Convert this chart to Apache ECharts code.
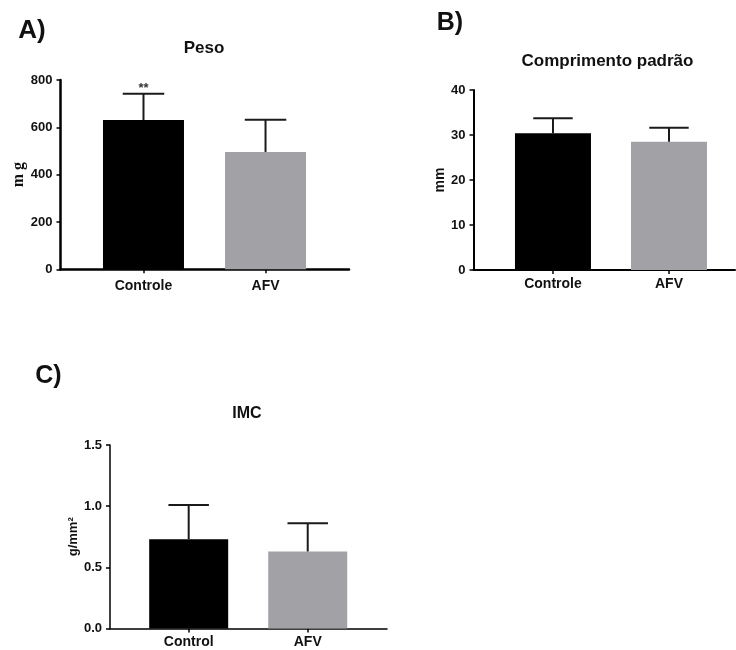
<!DOCTYPE html>
<html>
<head>
<meta charset="utf-8">
<script src="https://cdn.jsdelivr.net/npm/echarts@6/dist/echarts.min.js"></script>
<style>html,body{margin:0;padding:0;background:#fff;}#c{width:736px;height:650px;}</style>
</head>
<body>
<div id="c"></div>
<script>
// ---- data ----
const catsAB = ['Controle', 'AFV'];
const catsC = ['Control', 'AFV'];
const pesoMean = [631, 496];
const pesoSD = [111, 136];
const pesoSig = ['**', ''];
const compMean = [30.4, 28.5];
const compSD = [3.3, 3.1];
const imcMean = [0.73, 0.63];
const imcSD = [0.28, 0.23];
const barColors = ['#000000', '#a2a1a6'];
const titles = ['Peso', 'Comprimento padrão', 'IMC'];
const panelLetters = ['A)', 'B)', 'C)'];
const yNames = ['m g', 'mm', 'g/mm²'];

const FONT = 'Liberation Sans, Arial, sans-serif';
const TXT = '#111';

function makeX(gi, min, max, cats, lw, margin) {
  return {
    type: 'value', gridIndex: gi, min: min, max: max,
    splitLine: { show: false },
    axisLine: { show: true, onZero: false, lineStyle: { color: '#000', width: lw } },
    axisTick: { show: true, customValues: [0, 1], length: 4, lineStyle: { color: '#000', width: 1.5 } },
    axisLabel: {
      customValues: [0, 1], margin: margin,
      formatter: function (v) { return cats[Math.round(v)]; },
      fontSize: 14, fontWeight: 'bold', color: TXT, fontFamily: FONT
    }
  };
}
function makeY(gi, min, max, interval, name, nameGap, nameFont, lw, dec) {
  return {
    type: 'value', gridIndex: gi, min: min, max: max, interval: interval,
    name: name, nameLocation: 'middle', nameRotate: 90, nameGap: nameGap,
    nameTextStyle: nameFont,
    splitLine: { show: false },
    axisLine: { show: true, onZero: false, lineStyle: { color: '#000', width: lw } },
    axisTick: { show: true, length: 4, lineStyle: { color: '#000', width: 1.5 } },
    axisLabel: {
      margin: 8, fontSize: 13, fontWeight: 'bold', color: TXT, fontFamily: FONT,
      formatter: function (v) { return dec ? v.toFixed(dec) : String(v); }
    }
  };
}
function barSeries(gi, means, width) {
  return {
    type: 'bar', xAxisIndex: gi, yAxisIndex: gi, barWidth: width,
    data: means.map(function (m, j) { return { value: [j, m], itemStyle: { color: barColors[j] } }; }),
    z: 2
  };
}
function errSeries(gi, means, sds, sig) {
  return {
    type: 'custom', xAxisIndex: gi, yAxisIndex: gi,
    data: means.map(function (m, j) { return [j, m, m + sds[j]]; }),
    encode: { x: 0, y: [1, 2] },
    z: 3,
    renderItem: function (params, api) {
      const x = api.value(0);
      const p0 = api.coord([x, api.value(1)]);
      const p1 = api.coord([x, api.value(2)]);
      const half = api.size([1, 0])[0] * 0.17;
      const st = { stroke: '#1a1a1a', lineWidth: 2 };
      const children = [
        { type: 'line', shape: { x1: p0[0], y1: p0[1], x2: p1[0], y2: p1[1] }, style: st },
        { type: 'line', shape: { x1: p1[0] - half, y1: p1[1], x2: p1[0] + half, y2: p1[1] }, style: st }
      ];
      const s = sig ? sig[params.dataIndex] : '';
      if (s) {
        children.push({ type: 'text', x: p1[0], y: p1[1] + 1,
          style: { text: s, font: 'bold 13px ' + FONT, fill: '#333', align: 'center', verticalAlign: 'bottom' } });
      }
      return { type: 'group', children: children };
    }
  };
}
function label(text, x, y, size, rot) {
  return { type: 'text', x: x, y: y, rotation: rot || 0,
    style: { text: text, font: 'bold ' + size + 'px ' + FONT, fill: TXT, align: 'center', verticalAlign: 'middle' } };
}

const option = {
  animation: false,
  backgroundColor: '#ffffff',
  grid: [
    { left: 60.5, right: 736 - 349, top: 80, bottom: 650 - 269.3 },
    { left: 473.5, right: 1, top: 90, bottom: 380 },
    { left: 110, right: 736 - 387, top: 445, bottom: 650 - 628.5 }
  ],
  xAxis: [
    makeX(0, -0.68, 1.684, catsAB, 2.5, 10),
    makeX(1, -0.685, 1.569, catsAB, 2, 7),
    makeX(2, -0.661, 1.666, catsC, 1.5, 7)
  ],
  yAxis: [
    makeY(0, 0, 800, 200, yNames[0], 34, { fontFamily: 'Liberation Serif', fontWeight: 'bold', fontSize: 16, color: TXT }, 2.5, 0),
    makeY(1, 0, 40, 10, yNames[1], 25, { fontFamily: FONT, fontWeight: 'bold', fontSize: 14, color: TXT }, 2, 0),
    makeY(2, 0, 1.5, 0.5, yNames[2], 29, { fontFamily: FONT, fontWeight: 'bold', fontSize: 13, color: TXT }, 1.5, 1)
  ],
  series: [
    barSeries(0, pesoMean, 81), errSeries(0, pesoMean, pesoSD, pesoSig),
    barSeries(1, compMean, 76), errSeries(1, compMean, compSD, null),
    barSeries(2, imcMean, 79), errSeries(2, imcMean, imcSD, null)
  ],
  graphic: [
    label(panelLetters[0], 32, 31, 26),
    label(panelLetters[1], 450, 23, 25),
    label(panelLetters[2], 48.5, 376, 25),
    label(titles[0], 204, 48, 17),
    label(titles[1], 607.5, 61, 17),
    label(titles[2], 247, 414, 16)
  ]
};
const chart = echarts.init(document.getElementById('c'), null, { renderer: 'canvas' });
chart.setOption(option);
</script>
</body>
</html>
